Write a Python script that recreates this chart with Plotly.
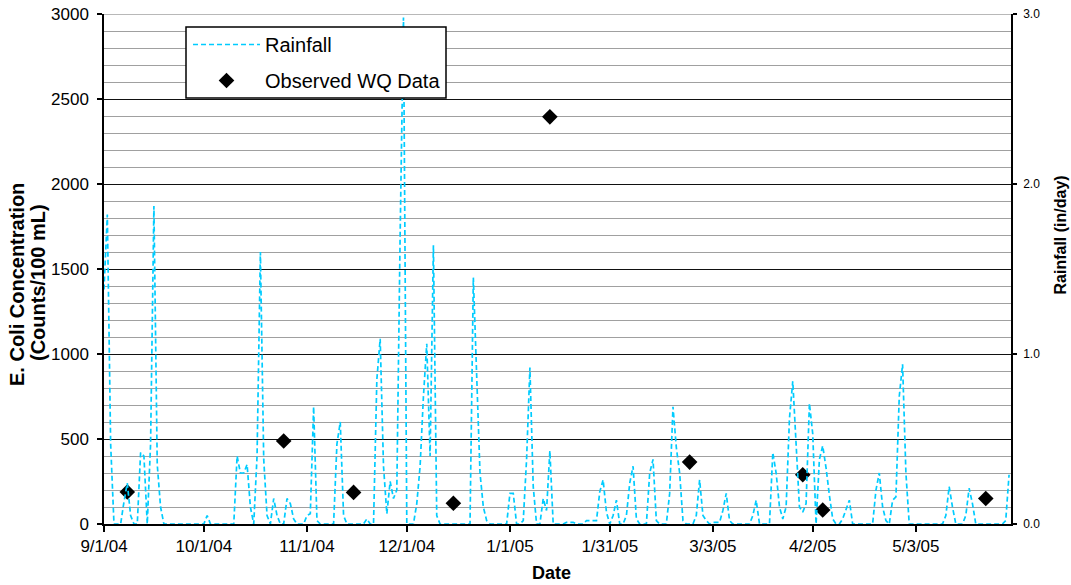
import pandas as pd
import plotly.graph_objects as go

# ---------------- data ----------------
rain_start = "2004-09-01"  # first day of the daily rainfall record
rain_sep = [1.38, 1.82, 0.47, 0, 0, 0, 0.13, 0.24, 0.05, 0, 0, 0.42, 0.40, 0, 0.47,
            1.87, 0.35, 0.10, 0, 0, 0, 0, 0, 0, 0, 0, 0, 0, 0, 0]
rain_oct = [0, 0.05, 0, 0, 0, 0, 0, 0, 0, 0, 0.40, 0.30, 0.30, 0.35, 0.10, 0, 0.40,
            1.60, 0.38, 0.05, 0, 0.15, 0.05, 0, 0, 0.15, 0.12, 0.03, 0, 0, 0]
rain_nov = [0.05, 0.06, 0.69, 0.02, 0, 0, 0, 0, 0, 0.47, 0.60, 0.05, 0, 0, 0, 0, 0, 0,
            0.03, 0, 0, 0.85, 1.09, 0.34, 0.06, 0.25, 0.15, 0.20, 1.70, 2.98]
rain_dec = [0, 0, 0, 0.12, 0.34, 0.75, 1.06, 0.40, 1.64, 0.05, 0, 0, 0, 0, 0, 0, 0, 0,
            0, 0, 1.45, 0.83, 0.30, 0.10, 0.02, 0, 0, 0, 0, 0, 0]
rain_jan = [0.18, 0.18, 0, 0, 0.02, 0.38, 0.92, 0.22, 0, 0, 0.15, 0.08, 0.43, 0, 0, 0,
            0, 0.01, 0.01, 0.01, 0, 0, 0, 0.02, 0.02, 0.02, 0.02, 0.19, 0.26, 0.07, 0]
rain_feb = [0.05, 0.14, 0, 0, 0.05, 0.24, 0.34, 0.03, 0, 0, 0, 0.30, 0.38, 0.02, 0, 0,
            0, 0.18, 0.69, 0.45, 0.30, 0.02, 0, 0, 0, 0.05, 0.26, 0.05]
rain_mar = [0.02, 0, 0.01, 0.01, 0.01, 0.08, 0.18, 0.02, 0, 0, 0, 0, 0, 0, 0.05, 0.14,
            0, 0, 0, 0, 0.42, 0.30, 0.10, 0.03, 0.10, 0.62, 0.84, 0.50, 0.10, 0.07, 0.12]
rain_apr = [0.71, 0.53, 0, 0.38, 0.46, 0.33, 0.17, 0.03, 0, 0, 0.03, 0.08, 0.14, 0, 0,
            0, 0, 0, 0, 0, 0.20, 0.30, 0.10, 0.02, 0, 0.14, 0.16, 0.75, 0.94, 0.30]
rain_may = [0, 0, 0, 0, 0, 0, 0, 0, 0, 0, 0, 0.05, 0.22, 0.10, 0, 0, 0, 0.05, 0.21,
            0.12, 0, 0, 0, 0, 0, 0, 0, 0, 0, 0.02, 0.29]

wq_dates = ["2004-09-08", "2004-10-25", "2004-11-15", "2004-12-15", "2005-01-13",
            "2005-02-24", "2005-03-30", "2005-04-05", "2005-05-24"]
wq_ecoli = [188, 488, 186, 122, 2395, 364, 290, 82, 150]

tick_dates = ["2004-09-01", "2004-10-01", "2004-11-01", "2004-12-01", "2005-01-01",
              "2005-01-31", "2005-03-03", "2005-04-02", "2005-05-03"]
tick_labels = ["9/1/04", "10/1/04", "11/1/04", "12/1/04", "1/1/05",
               "1/31/05", "3/3/05", "4/2/05", "5/3/05"]

rain = rain_sep + rain_oct + rain_nov + rain_dec + rain_jan + rain_feb + rain_mar + rain_apr + rain_may
rain_dates = pd.date_range(rain_start, periods=len(rain), freq="D")

FONT = "Arial, 'Liberation Sans', sans-serif"
PL, PR, PT, PB = 104, 1011, 14, 524   # plot-area edges in page pixels
PW, PH = PR - PL, PB - PT


def px(x):
    return (x - PL) / PW


def py(y):
    return (PB - y) / PH


fig = go.Figure()
fig.add_trace(go.Scatter(
    x=rain_dates, y=rain, name="Rainfall", mode="lines", yaxis="y2",
    legendgroup="rain",
    line=dict(color="#00CCFF", width=1.7, dash="5px,3px"),
))
fig.add_trace(go.Scatter(
    x=pd.to_datetime(wq_dates), y=wq_ecoli, name="Observed WQ Data", mode="markers",
    legendgroup="wq",
    marker=dict(symbol="diamond", size=12, color="black"),
))

fig.update_layout(
    width=1071, height=585,
    margin=dict(l=PL, r=1071 - PR, t=PT, b=585 - PB, autoexpand=False),
    paper_bgcolor="white", plot_bgcolor="white",
    font=dict(family=FONT, color="black"),
    showlegend=True,
    legend=dict(
        x=px(188), y=py(25), xanchor="left", yanchor="top",
        bgcolor="rgba(0,0,0,0)", borderwidth=0,
        font=dict(family=FONT, size=20, color="black"),
        itemwidth=67, tracegroupgap=7,
    ),
    shapes=[
        # legend frame
        dict(type="rect", xref="paper", yref="paper", layer="above",
             x0=px(186), x1=px(446), y0=py(98), y1=py(27),
             fillcolor="white", line=dict(color="black", width=1.5)),
        # top gridline drawn in the minor-grid grey
        dict(type="line", xref="paper", yref="y", layer="between",
             x0=0, x1=1, y0=3000, y1=3000,
             line=dict(color="#a0a0a0", width=1.5)),
    ],
    xaxis=dict(
        type="date", automargin=False,
        range=["2004-09-01", "2005-05-31 14:00"],
        tickvals=tick_dates, ticktext=tick_labels,
        ticks="outside", ticklen=6, tickcolor="black", tickwidth=1.5,
        showline=True, linecolor="black", linewidth=1.5,
        showgrid=False, zeroline=False,
        tickfont=dict(family=FONT, size=17, color="black"),
    ),
    yaxis=dict(
        automargin=False,
        range=[0, 3000], tickvals=[0, 500, 1000, 1500, 2000, 2500, 3000],
        ticks="outside", ticklen=5, tickcolor="black", tickwidth=1.5,
        showline=True, linecolor="black", linewidth=1.5,
        showgrid=True, gridcolor="#111111", gridwidth=1.3, zeroline=False,
        minor=dict(dtick=100, showgrid=True, gridcolor="#a0a0a0", gridwidth=1.3, ticks=""),
        tickfont=dict(family=FONT, size=17, color="black"),
        ticklabelstandoff=5,
    ),
    yaxis2=dict(
        automargin=False,
        overlaying="y", side="right", range=[0, 3],
        tickvals=[0, 1, 2, 3], ticktext=["0.0", "1.0", "2.0", "3.0"],
        ticks="outside", ticklen=4, tickcolor="black", tickwidth=1.5,
        showline=True, linecolor="black", linewidth=1.5,
        showgrid=False, zeroline=False,
        tickfont=dict(family=FONT, size=12, color="black"),
        ticklabelstandoff=4,
    ),
    annotations=[
        dict(text="<b>E. Coli Concentration</b>", xref="paper", yref="paper",
             x=px(17), y=py(285), xanchor="center", yanchor="middle",
             textangle=-90, showarrow=False, font=dict(family=FONT, size=20, color="black")),
        dict(text="<b>(Counts/100 mL)</b>", xref="paper", yref="paper",
             x=px(38), y=py(283), xanchor="center", yanchor="middle",
             textangle=-90, showarrow=False, font=dict(family=FONT, size=20, color="black")),
        dict(text="<b>Rainfall (in/day)</b>", xref="paper", yref="paper",
             x=px(1059.5), y=py(235), xanchor="center", yanchor="middle",
             textangle=-90, showarrow=False, font=dict(family=FONT, size=16, color="black")),
        dict(text="<b>Date</b>", xref="paper", yref="paper",
             x=px(551), y=py(573), xanchor="center", yanchor="middle",
             showarrow=False, font=dict(family=FONT, size=18, color="black")),
    ],
)

fig.write_html("out.html", config={"displayModeBar": False},
               post_script="document.body.style.margin='0px';")
